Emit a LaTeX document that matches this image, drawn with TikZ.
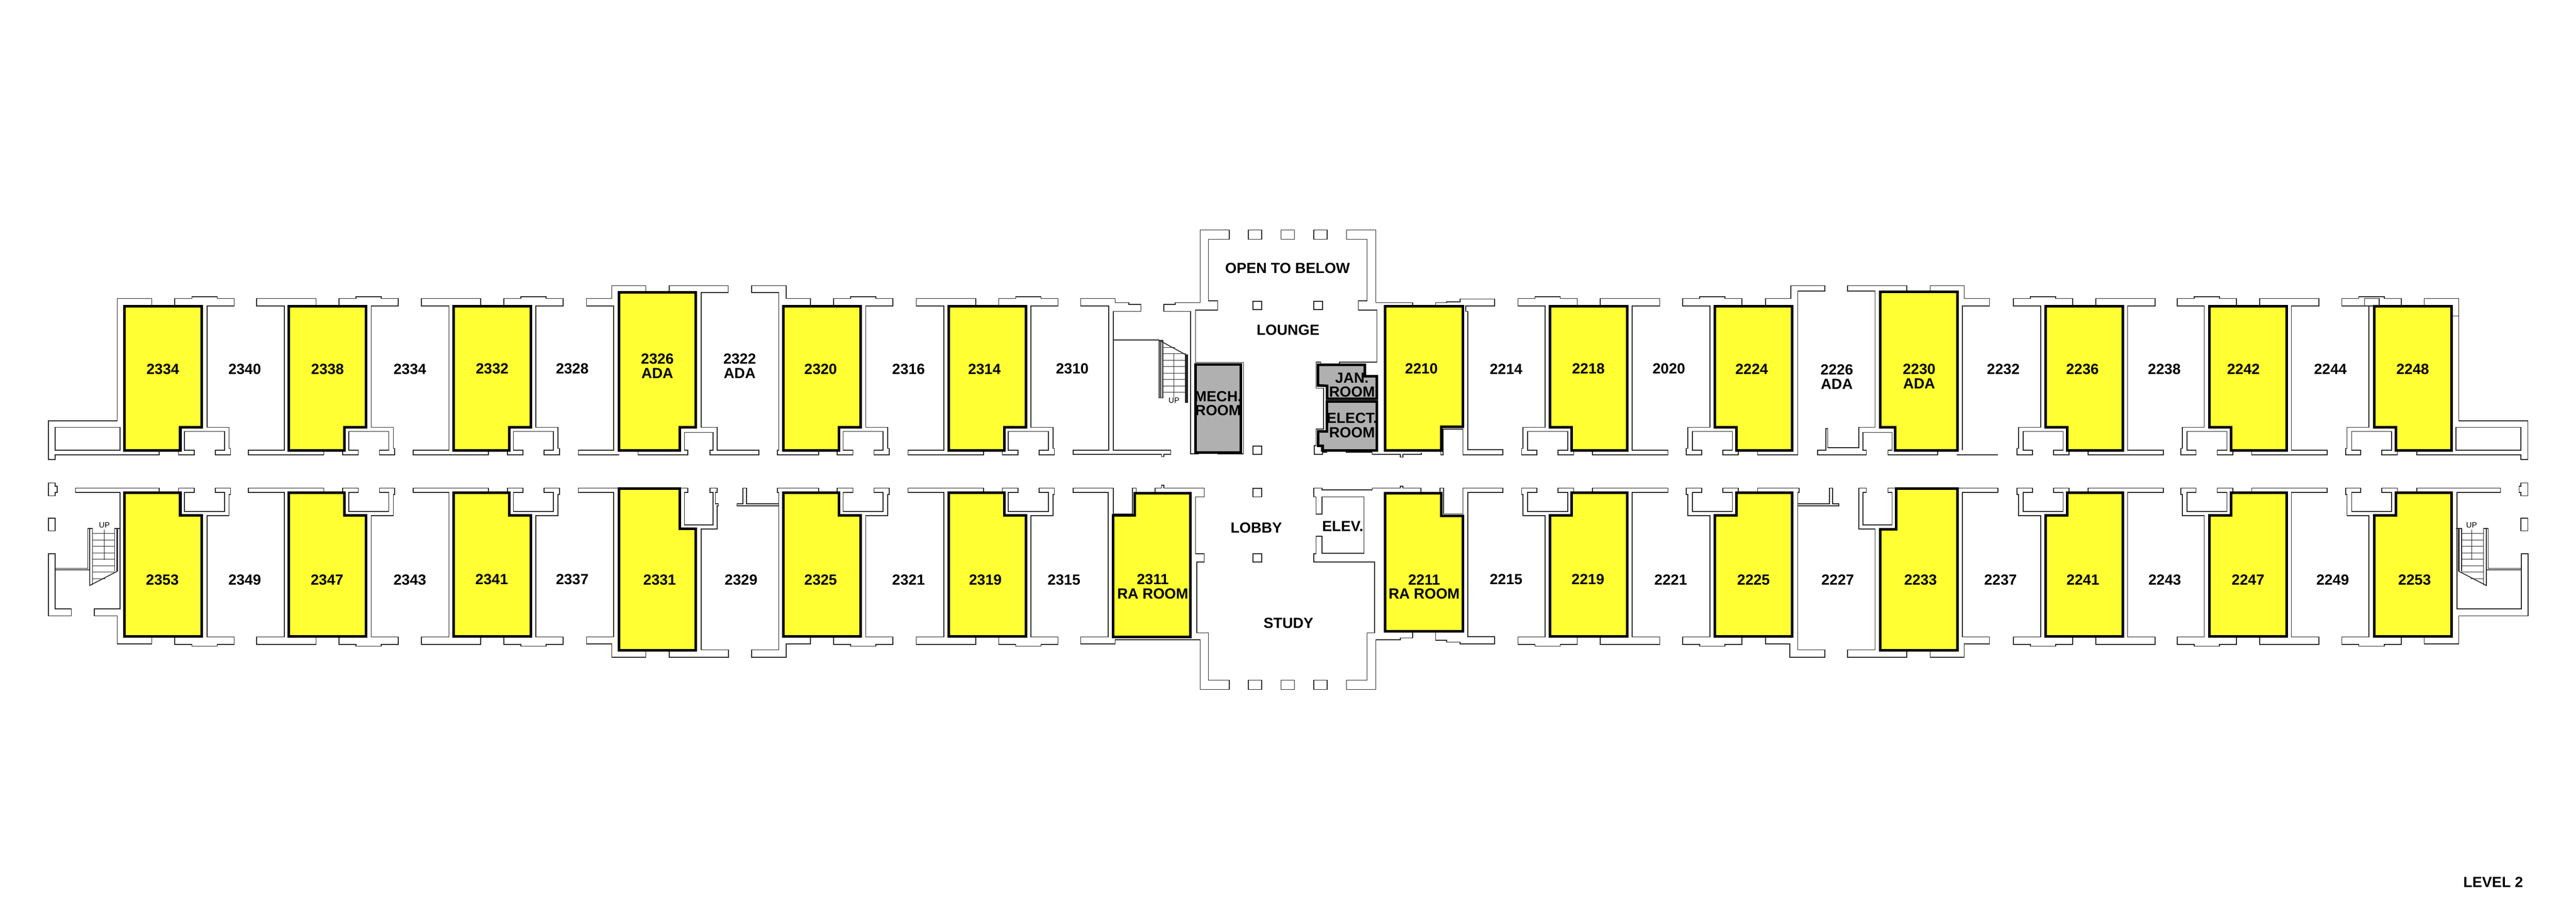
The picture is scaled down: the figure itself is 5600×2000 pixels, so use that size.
\documentclass[tikz,border=0pt]{standalone}
\usepackage{fontspec}
\setmainfont{Liberation Sans}
\definecolor{roomyellow}{RGB}{255, 255, 51}
\definecolor{utilgray}{RGB}{176, 176, 176}
\tikzstyle{wall} = [draw=black!85, line width=0.26pt, line join=miter]
\tikzstyle{room} = [draw=black, fill=roomyellow, line width=0.8pt, line join=miter]
\tikzstyle{util} = [draw=black, fill=utilgray, line width=0.8pt, line join=miter]
\tikzstyle{tag} = [inner sep=0pt, align=center, font={\fontsize{4.55}{4.4}\selectfont\bfseries}]
\tikzstyle{uptag} = [inner sep=0pt, font={\fontsize{2.4}{2.4}\selectfont}]
%one standard room, x from the outer side of the yellow block
\newcommand{\roomfill}{\draw [room] (0,666) -- (168,666) -- (168,929) -- (121,929) -- (121,979) -- (0,979) -- cycle;}
\newcommand{\windowwall}{\draw [wall] (59,665) -- (59,649) -- (-70,649) -- (-70,665) -- (-10,665) -- (-10,979) -- (-88,979) -- (-88,989) -- (76,989) -- (76,979);}
\newcommand{\closetwall}{\draw [wall] (109,665) -- (109,649) -- (146,649) -- (146,645) -- (201,645) -- (201,649) -- (238,649) -- (238,665) -- (179,665) -- (179,929) -- (227,929) -- (227,975) -- (230,975) -- (230,989) -- (197,989) -- (197,979) -- (217,979) -- (217,938) -- (130,938) -- (130,979) -- (151,979) -- (151,989) -- (117,989) -- (117,979);}
%end of the wing, with the stair
\newcommand{\wingtop}{\draw [wall] (330,665) -- (330,649) -- (255,649) -- (255,915) -- (105,915) -- (105,999) -- (120,999) -- (120,989) -- (346,989) -- (346,979);
  \draw [wall] (120,929) rectangle (261,979);}
\newcommand{\wingpier}{\draw [wall] (105,1050) -- (120,1050) -- (120,1057) -- (124,1057) -- (124,1071) -- (120,1071) -- (120,1078) -- (105,1078) -- cycle;
  \draw [wall] (105,1127) rectangle (120,1154);}
\newcommand{\wingstair}{
  \draw [wall] (261,1149) -- (249,1149) -- (249,1242);
  \draw [wall, line width=0.5pt] (255,1149) -- (255,1242);
  \draw [wall] (120,1236) -- (191,1236) -- (191,1149) -- (201,1149) -- (201,1272);
  \draw [wall] (120,1239) -- (195,1239) -- (195,1273) -- (255,1242);
  \draw [wall] (195,1149) -- (195,1239);
  \begin{scope}
    \clip (201,1149) -- (249,1149) -- (249,1248) -- (201,1273) -- cycle;
    \foreach \tread in {0,...,7}
      \draw [wall, line width=0.2pt] (201,1160+14*\tread) -- (249,1160+14*\tread);
  \end{scope}
  \draw [wall, line width=0.2pt] (227,1151) -- (227,1217);
  \node (wingup) [uptag] at (227,1142) {UP};}
\begin{document}
\begin{tikzpicture}[x=0.005cm,y=-0.005cm]
    \path [fill=white, use as bounding box] (0,0) rectangle (5600,2000);

    %Standard rooms
    \foreach \xx in {628,986,2062} {
      \begin{scope}[shift={(\xx,0)}] \windowwall \closetwall \roomfill \end{scope}
      \begin{scope}[shift={(\xx,2050)},yscale=-1] \windowwall \closetwall \roomfill \end{scope}
    }
    \foreach \xx in {3538,4615,4971} {
      \begin{scope}[shift={(\xx,0)},xscale=-1] \windowwall \closetwall \roomfill \end{scope}
      \begin{scope}[shift={(\xx,2050)},xscale=-1,yscale=-1] \windowwall \closetwall \roomfill \end{scope}
    }
    %Rooms with one wall of their own
    \foreach \xx in {271,1703} {
      \begin{scope}[shift={(\xx,0)}] \closetwall \roomfill \end{scope}
      \begin{scope}[shift={(\xx,2050)},yscale=-1] \closetwall \roomfill \end{scope}
    }
    \foreach \xx in {3896,5329} {
      \begin{scope}[shift={(\xx,0)},xscale=-1] \closetwall \roomfill \end{scope}
      \begin{scope}[shift={(\xx,2050)},xscale=-1,yscale=-1] \closetwall \roomfill \end{scope}
    }

    %West end
    \wingtop
    \wingpier
    \wingstair
    \draw [wall] (346,1071) -- (346,1061) -- (164,1061) -- (164,1071) -- (261,1071) -- (261,1324) -- (205,1324) -- (205,1339) -- (255,1339) -- (255,1400) -- (330,1400) -- (330,1385);
    \draw [wall] (120,1204) -- (105,1204) -- (105,1339) -- (155,1339) -- (155,1324) -- (120,1324) -- cycle;

    %East end
    \begin{scope}[shift={(5600,0)},xscale=-1]
      \wingtop
      \wingpier
      \wingstair
    \end{scope}
    \draw [wall] (5254,1071) -- (5254,1061) -- (5436,1061) -- (5436,1071) -- (5341,1071) -- (5341,1324) -- (5481,1324) -- (5481,1204) -- (5496,1204) -- (5496,1339) -- (5345,1339) -- (5345,1400) -- (5270,1400) -- (5270,1385);
    \draw [wall] (5140,649) rectangle (5172,665);
    \draw [wall] (5329,687) -- (5346,687);

    %2320 and 2325
    \draw [wall] (1762,665) -- (1762,649) -- (1709,649) -- (1709,621) -- (1634,621) -- (1634,636) -- (1693,636) -- (1693,979) -- (1690,979) -- (1690,989) -- (1780,989) -- (1780,979);
    \draw [wall] (1780,1071) -- (1780,1061) -- (1690,1061) -- (1690,1071) -- (1693,1071) -- (1693,1413) -- (1634,1413) -- (1634,1429) -- (1709,1429) -- (1709,1400) -- (1762,1400) -- (1762,1385);
    \draw [wall] (1693,1095) -- (1623,1095) -- (1623,1061) -- (1615,1061) -- (1615,1095) -- (1602,1095) -- (1602,1100) -- (1693,1100);

    %2326 and 2331
    \draw [wall] (1404,636) -- (1404,621) -- (1330,621) -- (1330,649) -- (1275,649) -- (1275,665) -- (1334,665) -- (1334,979) -- (1257,979) -- (1257,989) -- (1346,989);
    \draw [wall] (1387,979) -- (1387,989) -- (1495,989) -- (1495,979) -- (1488,979) -- (1488,940) -- (1550,940) -- (1550,979) -- (1543,979) -- (1543,989) -- (1650,989) -- (1650,979) -- (1559,979) -- (1559,929) -- (1524,929) -- (1524,636) -- (1583,636) -- (1583,621) -- (1455,621) -- (1455,636);
    \draw [room] (1346,636) -- (1513,636) -- (1513,929) -- (1478,929) -- (1478,979) -- (1346,979) -- cycle;
    \draw [wall] (1257,1061) -- (1495,1061) -- (1495,1071) -- (1488,1071) -- (1488,1141) -- (1550,1141) -- (1550,1071) -- (1543,1071) -- (1543,1061) -- (1559,1061) -- (1559,1071) -- (1555,1071) -- (1555,1095) -- (1562,1095) -- (1562,1100) -- (1559,1100) -- (1559,1150) -- (1524,1150) -- (1524,1413) -- (1584,1413) -- (1584,1429) -- (1455,1429) -- (1455,1414);
    \draw [wall] (1404,1414) -- (1404,1429) -- (1330,1429) -- (1330,1400) -- (1275,1400) -- (1275,1385) -- (1334,1385) -- (1334,1071) -- (1257,1071) -- (1257,1061);
    \draw [room] (1346,1062) -- (1478,1062) -- (1478,1150) -- (1513,1150) -- (1513,1414) -- (1346,1414) -- cycle;

    %2310 with its stair
    \draw [wall] (2349,649) -- (2424,649) -- (2424,658) -- (2454,658) -- (2454,662) -- (2480,662) -- (2480,677) -- (2420,677) -- (2420,979) -- (2545,979) -- (2545,988) -- (2530,988) -- (2530,993) -- (2525,993) -- (2525,988) -- (2333,988) -- (2333,979) -- (2410,979) -- (2410,665) -- (2349,665) -- cycle;
    \draw [wall] (2420,739) -- (2520,739);
    \draw [wall] (2520,740) rectangle (2528,865);
    \draw [wall] (2523,740) -- (2523,865);
    \draw [wall, line width=0.5pt] (2578,772) rectangle (2581,874);
    \draw [wall] (2522,741) -- (2581,773);
    \begin{scope}
      \clip (2528,741) -- (2578,768) -- (2578,874) -- (2528,874) -- cycle;
      \foreach \tread in {0,...,7}
        \draw [wall, line width=0.2pt] (2528,755+14*\tread) -- (2578,755+14*\tread);
    \end{scope}
    \draw [wall, line width=0.2pt] (2552,768) -- (2552,863);
    \node (stairup) [uptag] at (2552,871) {UP};

    %2311
    \draw [wall] (2470,1071) -- (2470,1061) -- (2462,1061) -- (2462,1117) -- (2420,1117) -- (2420,1061) -- (2333,1061) -- (2333,1071) -- (2409,1071) -- (2409,1385) -- (2349,1385) -- (2349,1400) -- (2424,1400) -- (2424,1391) -- (2609,1391) -- (2609,1499) -- (2672,1499) -- (2672,1479) -- (2627,1479) -- (2627,1376) -- (2602,1376) -- (2602,1222) -- (2618,1222) -- (2618,1204) -- (2599,1204) -- (2599,1080) -- (2618,1080) -- (2618,1061) -- (2530,1061) -- (2530,1055) -- (2525,1055) -- (2525,1061) -- (2511,1061) -- (2511,1071);
    \draw [room] (2420,1121) -- (2467,1121) -- (2467,1072) -- (2588,1072) -- (2588,1385) -- (2420,1385) -- cycle;

    %Lounge walls
    \draw [wall] (2672,500) -- (2609,500) -- (2609,658) -- (2555,658) -- (2555,662) -- (2530,662) -- (2530,677) -- (2588,677) -- (2588,987) -- (2606,987);
    \draw [wall] (2672,500) -- (2672,520) -- (2627,520) -- (2627,654) -- (2647,654) -- (2647,674) -- (2599,674) -- (2599,788) -- (2703,788) -- (2703,987) -- (2647,987);
    \draw [wall] (2927,500) -- (2991,500) -- (2991,658) -- (3071,658) -- (3071,663);
    \draw [wall] (2927,500) -- (2927,520) -- (2972,520) -- (2972,654) -- (2953,654) -- (2953,674) -- (2993,674) -- (2993,787) -- (2912,787) -- (2912,793);
    \foreach \xx in {2714,2785,2856} {
      \draw [wall] (\xx,500) rectangle ++(29,20);
      \draw [wall] (\xx,1479) rectangle ++(29,20);
    }
    %Columns
    \draw [wall] (2724,655) rectangle (2743,673);
    \draw [wall] (2856,655) rectangle (2875,673);
    \draw [wall] (2724,970) rectangle (2743,988);
    \draw [wall] (2724,1062) rectangle (2743,1080);
    \draw [wall] (2724,1204) rectangle (2743,1222);

    %Utility rooms
    \draw [util] (2599,792) rectangle (2698,984);
    \draw [wall] (2871,793) -- (2871,787) -- (2861,787) -- (2861,844) -- (2877,844) -- (2877,933) -- (2861,933) -- (2861,969) -- (2857,969) -- (2857,988) -- (2875,988) -- (2875,983) -- (2884,983) -- (2884,980);
    \draw [wall] (2926,980) -- (2926,983) -- (2983,983) -- (2983,988) -- (3044,988) -- (3044,994) -- (3050,994) -- (3050,988) -- (3090,988) -- (3090,984);
    \draw [util] (2865,793) -- (2967,793) -- (2967,818) -- (2993,818) -- (2993,867) -- (2885,867) -- (2885,839) -- (2865,838) -- cycle;
    \draw [util] (2885,873) -- (2993,873) -- (2993,979) -- (2875,979) -- (2875,969) -- (2866,969) -- (2866,938) -- (2885,938) -- cycle;

    %Elevator and study side
    \draw [wall] (2983,1061) -- (2983,1065) -- (2874,1065) -- (2874,1061) -- (2856,1061) -- (2856,1080) -- (2861,1080) -- (2861,1118) -- (2874,1118) -- (2874,1080) -- (2965,1080) -- (2965,1203) -- (2874,1203) -- (2874,1166) -- (2861,1166) -- (2861,1204) -- (2856,1204) -- (2856,1222) -- (2988,1222) -- (2988,1376) -- (2972,1376) -- (2972,1479) -- (2927,1479) -- (2927,1499) -- (2991,1499) -- (2991,1391) -- (3044,1391) -- (3044,1387) -- (3071,1387) -- (3071,1375);

    %2210 and 2211
    \draw [wall] (3121,663) -- (3121,658) -- (3145,658) -- (3145,656) -- (3174,656) -- (3174,650) -- (3249,650) -- (3249,665) -- (3186,665) -- (3186,677) -- (3191,677) -- (3191,978) -- (3267,978) -- (3267,989) -- (3180,989) -- (3180,933) -- (3137,933) -- (3137,989) -- (3132,989) -- (3132,979);
    \draw [room] (3011,666) -- (3180,666) -- (3180,928) -- (3133,928) -- (3133,979) -- (3011,979) -- cycle;
    \draw [wall] (2983,1061) -- (3044,1061) -- (3044,1057) -- (3050,1057) -- (3050,1061) -- (3089,1061) -- (3089,1071);
    \draw [wall] (3130,1071) -- (3130,1061) -- (3138,1061) -- (3138,1117) -- (3180,1117) -- (3180,1061) -- (3267,1061) -- (3267,1071) -- (3191,1071) -- (3191,1384) -- (3249,1384) -- (3249,1400) -- (3174,1400) -- (3174,1396) -- (3145,1396) -- (3145,1392) -- (3121,1392) -- (3121,1375);
    \draw [room] (3011,1072) -- (3133,1072) -- (3133,1122) -- (3180,1122) -- (3180,1372) -- (3011,1372) -- cycle;

    %2224 and 2225
    \draw [wall] (3838,665) -- (3838,649) -- (3893,649) -- (3893,621) -- (3967,621) -- (3967,633) -- (3908,633) -- (3908,989) -- (3821,989) -- (3821,979);
    \draw [wall] (3821,1071) -- (3821,1061) -- (3911,1061) -- (3911,1071) -- (3908,1071) -- (3908,1413) -- (3967,1413) -- (3967,1429) -- (3891,1429) -- (3891,1400) -- (3838,1400) -- (3838,1385);
    \draw [wall] (3908,1095) -- (3977,1095) -- (3977,1061) -- (3984,1061) -- (3984,1095) -- (3997,1095) -- (3997,1100) -- (3908,1100);

    %2230 and 2233
    \draw [wall] (4145,634) -- (4145,621) -- (4016,621) -- (4016,633) -- (4076,633) -- (4076,929) -- (4041,929) -- (4041,973) -- (3973,973) -- (3973,932) -- (3969,932) -- (3969,979) -- (3951,979) -- (3951,989) -- (4057,989) -- (4057,979) -- (4050,979) -- (4050,940) -- (4113,940) -- (4113,979) -- (4104,979) -- (4104,989) -- (4212,989) -- (4212,979);
    \draw [wall] (4196,634) -- (4196,621) -- (4270,621) -- (4270,649) -- (4325,649) -- (4325,665) -- (4266,665) -- (4266,979);
    \draw [wall] (4254,989) -- (4343,989);
    \draw [room] (4087,634) -- (4255,634) -- (4255,979) -- (4120,979) -- (4120,929) -- (4087,929) -- cycle;
    \draw [wall] (4343,1071) -- (4266,1071) -- (4266,1385) -- (4325,1385) -- (4325,1400) -- (4270,1400) -- (4270,1429) -- (4196,1429) -- (4196,1414);
    \draw [wall] (4145,1414) -- (4145,1429) -- (4016,1429) -- (4016,1413) -- (4076,1413) -- (4076,1150) -- (4041,1150) -- (4041,1061) -- (4057,1061) -- (4057,1071) -- (4050,1071) -- (4050,1141) -- (4113,1141) -- (4113,1071) -- (4104,1071) -- (4104,1061) -- (4343,1061) -- (4343,1071);
    \draw [room] (4122,1062) -- (4255,1062) -- (4255,1414) -- (4087,1414) -- (4087,1151) -- (4122,1151) -- cycle;

    %Room numbers
    \foreach \x/\y/\t in {354/803/2334, 532/803/2340, 712/803/2338, 891/803/2334, 1070/802/2332, 1244/802/2328, 1429/796/{2326\\ADA}, 1608/796/{2322\\ADA}, 1784/803/2320, 1975/803/2316, 2140/803/2314, 2331/802/2310,
      3090/802/2210, 3274/802/2214, 3453/802/2218, 3628/802/2020, 3808/803/2224, 3993/819/{2226\\ADA}, 4172/818/{2230\\ADA}, 4355/803/2232, 4527/803/2236, 4705/803/2238, 4877/803/2242, 5066/803/2244, 5245/803/2248,
      353/1261/2353, 532/1261/2349, 711/1261/2347, 891/1261/2343, 1069/1260/2341, 1244/1260/2337, 1434/1261/2331, 1611/1261/2329, 1784/1261/2325, 1975/1261/2321, 2142/1261/2319, 2313/1261/2315, 2506/1275/{2311\\RA ROOM},
      3096/1276/{2211\\RA ROOM}, 3274/1260/2215, 3452/1260/2219, 3632/1260/2221, 3812/1261/2225, 3995/1261/2227, 4175/1261/2233, 4349/1261/2237, 4528/1261/2241, 4706/1261/2243, 4887/1261/2247, 5071/1261/2249, 5249/1261/2253}
      \node (num\x-\y) [tag] at (\x,\y) {\t};

    %Common spaces
    \node (OpenBelow) [tag] at (2799,583) {OPEN TO BELOW};
    \node (Lounge) [tag] at (2800,718) {LOUNGE};
    \node (Lobby) [tag] at (2731,1148) {LOBBY};
    \node (Elev) [tag] at (2919,1144) {ELEV.};
    \node (Study) [tag] at (2801,1355) {STUDY};
    \node (MechRoom) [tag] at (2648,877) {MECH.\\ROOM};
    \node (JanRoom) [tag] at (2939,837) {JAN.\\ROOM};
    \node (ElectRoom) [tag] at (2939,925) {ELECT.\\ROOM};
    \node (Level) [tag] at (5420,1918) {LEVEL 2};

\end{tikzpicture}
\end{document}
